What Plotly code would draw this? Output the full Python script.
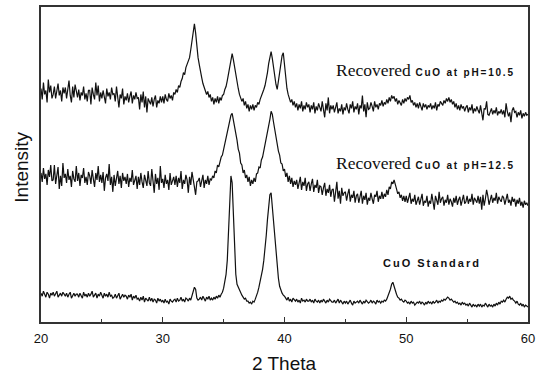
import numpy as np
import plotly.graph_objects as go

# 2-theta grid (degrees), 0.1 deg step from 20 to 60
two_theta = np.round(np.linspace(20.0, 60.0, 401), 1)

# Intensities (arbitrary units)
cuo_standard = [
    29,26,31,27,25,30,28,24,29,27,
    30,26,28,31,25,27,29,26,30,28,
    26,29,25,28,30,24,27,29,26,28,
    28,25,29,27,24,30,26,28,25,29,
    26,28,31,25,27,29,24,28,26,30,
    27,24,29,26,28,25,30,26,27,24,
    25,28,24,27,29,23,26,28,25,27,
    26,23,27,25,28,22,26,24,27,23,
    24,21,25,22,26,20,24,23,21,25,
    21,24,20,23,22,19,24,21,23,20,
    22,19,23,20,21,18,23,21,20,22,
    23,20,24,21,22,25,21,23,20,24,
    23,21,24,22,26,31,35,33,24,22,
    23,25,22,26,24,21,25,23,26,22,
    24,22,25,23,26,24,27,25,28,30,
    34,40,48,62,90,125,147,140,105,78,
    48,38,35,32,30,27,25,23,24,21,
    21,19,20,18,21,20,23,26,30,35,
    40,46,53,62,73,87,103,118,128,130,
    115,98,82,68,54,44,36,31,29,27,
    26,24,22,25,21,23,20,24,22,21,
    23,20,22,19,24,21,22,20,23,21,
    21,23,20,22,19,23,21,20,22,19,
    22,20,23,21,19,22,20,23,21,20,
    20,22,19,21,23,19,22,20,18,21,
    19,21,18,20,22,19,17,21,19,20,
    21,19,22,20,18,21,19,22,20,19,
    20,22,19,21,20,18,22,20,21,19,
    21,20,22,21,23,26,29,33,38,40,
    36,31,28,25,24,22,23,21,20,22,
    21,19,20,18,21,19,20,17,19,20,
    19,21,18,20,19,17,20,18,21,19,
    20,18,21,19,20,22,19,21,20,22,
    21,23,22,24,25,24,22,23,21,20,
    21,19,20,18,19,17,20,18,19,17,
    18,16,19,17,15,18,16,17,15,18,
    16,18,15,17,16,19,17,15,18,16,
    17,15,18,16,19,17,20,18,21,20,
    22,20,23,25,24,26,23,24,22,21,
    19,21,18,17,19,16,18,15,17,16,
    15,
]

cuo_ph125 = [
    150,141,155,144,149,138,153,146,158,142,
    143,158,139,148,156,134,147,137,160,145,
    149,140,154,143,147,136,152,144,141,157,
    142,150,137,148,145,155,140,146,138,151,
    147,139,153,144,136,150,143,157,141,148,
    140,151,132,145,149,142,159,138,146,131,
    148,137,145,152,139,147,135,150,142,146,
    139,149,136,145,141,153,138,144,147,134,
    146,138,150,141,135,148,143,137,152,140,
    137,154,142,130,149,139,145,133,157,140,
    144,135,148,139,143,133,150,138,142,146,
    138,147,136,145,140,152,134,143,139,148,
    143,130,146,138,151,145,136,128,141,142,
    145,136,141,148,135,143,139,147,138,144,
    143,147,145,152,150,158,156,163,166,168,
    174,179,186,191,199,203,208,210,204,198,
    189,183,174,170,160,158,150,153,145,148,
    141,146,137,143,139,145,141,149,150,156,
    155,163,166,172,178,185,190,198,204,212,
    209,201,193,186,181,172,168,160,159,152,
    154,146,150,141,147,139,145,136,142,138,
    143,134,140,146,133,141,137,145,132,139,
    141,132,139,144,131,138,135,143,130,137,
    136,128,135,140,127,134,130,138,126,133,
    134,121,131,141,124,132,119,135,127,130,
    131,122,129,134,121,128,125,132,120,127,
    129,120,126,132,119,127,123,130,118,125,
    122,130,124,119,128,126,132,121,127,124,
    131,124,129,126,133,128,136,134,141,139,
    143,137,134,129,131,125,128,122,127,121,
    127,120,125,130,119,124,121,128,118,123,
    126,118,123,129,117,122,120,127,116,122,
    119,129,121,113,127,122,118,131,120,124,
    126,117,123,120,128,118,124,121,116,125,
    120,127,118,123,126,117,122,128,119,121,
    127,119,124,121,129,118,125,122,120,127,
    119,126,113,128,117,124,133,127,118,123,
    128,120,125,122,130,119,126,123,121,127,
    125,118,124,129,120,123,117,126,121,124,
    116,123,119,125,117,121,115,122,118,120,
    117,
]

cuo_ph105 = [
    235,224,241,229,233,221,244,231,238,225,
    229,237,225,234,240,228,233,222,236,230,
    236,225,232,243,228,221,237,226,239,230,
    226,234,223,231,228,237,224,230,222,233,
    233,219,236,229,224,241,228,238,222,231,
    225,233,228,220,235,227,231,224,236,229,
    230,222,237,226,216,229,225,235,219,227,
    223,230,221,227,232,220,228,224,231,225,
    226,214,229,221,232,216,227,211,225,222,
    219,226,217,224,228,216,223,220,227,221,
    227,220,229,224,222,230,225,228,223,231,
    229,234,231,238,236,242,245,251,249,256,
    259,262,266,274,284,294,300,291,276,266,
    259,251,246,240,237,234,229,232,226,229,
    222,226,219,225,221,227,220,226,223,228,
    229,234,237,243,249,256,263,270,264,256,
    249,240,235,229,226,222,225,218,222,215,
    219,212,218,214,219,213,218,216,221,219,
    224,227,231,234,238,244,251,260,266,272,
    265,255,247,239,234,242,252,262,268,271,
    258,243,235,229,225,221,224,218,222,216,
    220,213,219,215,222,212,218,214,221,216,
    219,211,218,214,221,210,217,213,220,215,
    212,222,214,206,220,213,226,210,218,214,
    218,211,216,221,210,215,212,219,209,216,
    213,220,214,210,219,215,222,211,217,214,
    220,209,218,215,228,212,219,206,221,214,
    215,221,217,212,222,216,219,214,220,218,
    223,217,221,219,224,220,226,222,228,225,
    227,222,225,219,223,221,218,224,220,225,
    222,226,224,228,221,223,218,221,216,220,
    215,221,217,213,220,216,219,214,218,216,
    220,214,218,215,221,213,219,217,222,220,
    218,223,220,225,222,226,221,224,219,222,
    216,220,214,218,213,219,215,217,212,216,
    218,211,216,213,219,210,215,212,217,213,
    210,218,212,203,215,214,222,209,208,213,
    215,209,213,210,216,208,212,210,214,209,
    213,206,220,212,207,211,201,213,216,211,
    212,206,211,208,213,205,210,207,211,208,
    209,
]

x_ticks = [20, 30, 40, 50, 60]
x_ticklabels = ["20", "30", "40", "50", "60"]

fig = go.Figure()
for series in (cuo_ph105, cuo_ph125, cuo_standard):
    n = min(len(series), len(two_theta))
    fig.add_trace(go.Scatter(
        x=two_theta[:n], y=series[:n], mode="lines",
        line=dict(color="#111111", width=1.2), showlegend=False,
        hoverinfo="skip",
    ))

sans = "font-family:Arial;font-weight:bold;font-size:10px;letter-spacing:1.8px"
fig.add_annotation(x=59.1, y=254, xref="x", yref="y", xanchor="right", yanchor="middle",
                   showarrow=False,
                   text=f'Recovered<span style="{sans}"> CuO at pH=10.5</span>',
                   font=dict(family="Liberation Serif", size=17.5, color="#111111"))
fig.add_annotation(x=59.1, y=160, xref="x", yref="y", xanchor="right", yanchor="middle",
                   showarrow=False,
                   text=f'Recovered<span style="{sans}"> CuO at pH=12.5</span>',
                   font=dict(family="Liberation Serif", size=17.5, color="#111111"))
fig.add_annotation(x=52.1, y=59, xref="x", yref="y", xanchor="center", yanchor="middle",
                   showarrow=False,
                   text='<span style="letter-spacing:2px">CuO Standard</span>',
                   font=dict(family="Liberation Sans", size=11, color="#111111", weight="bold"))

fig.add_annotation(x=-0.039, y=0.49, xref="paper", yref="paper", xanchor="center", yanchor="middle",
                   showarrow=False, textangle=-90, text="Intensity",
                   font=dict(family="Liberation Sans", size=19, color="#111111"))
fig.add_annotation(x=0.499, y=-0.1325, xref="paper", yref="paper", xanchor="center", yanchor="middle",
                   showarrow=False, text="2 Theta",
                   font=dict(family="Liberation Sans", size=19, color="#111111"))

fig.update_xaxes(range=[20, 60], tickvals=x_ticks, ticktext=x_ticklabels,
                 ticks="inside", ticklen=5, tickcolor="#333333", tickwidth=1,
                 minor=dict(ticks="inside", ticklen=3, dtick=5, tick0=20, tickcolor="#333333"),
                 showline=True, linecolor="#333333", linewidth=1.5, mirror=True,
                 showgrid=False, zeroline=False, ticklabelstandoff=4,
                 tickfont=dict(family="Liberation Sans", size=13, color="#111111"))
fig.update_yaxes(range=[0, 317], showticklabels=False, ticks="",
                 showline=True, linecolor="#333333", linewidth=1.5, mirror=True,
                 showgrid=False, zeroline=False)
fig.update_layout(width=540, height=378, margin=dict(l=41, r=10, t=5, b=56),
                  plot_bgcolor="white", paper_bgcolor="white")
fig.write_html("out.html")
